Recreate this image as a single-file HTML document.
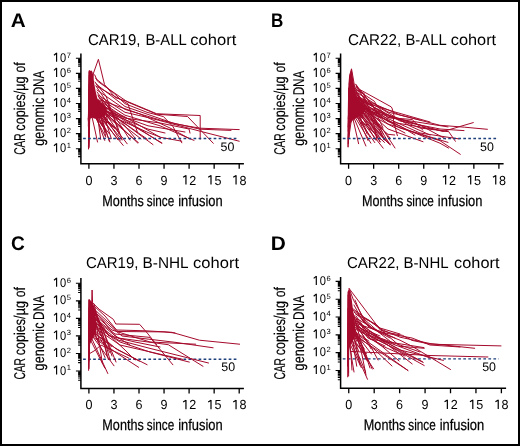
<!DOCTYPE html>
<html><head><meta charset="utf-8"><style>
html,body{margin:0;padding:0;background:#fff;}
svg{display:block;will-change:transform;}
text{font-kerning:none;text-rendering:geometricPrecision;}
</style></head><body>
<svg width="520" height="446" viewBox="0 0 520 446">
<rect x="0" y="0" width="520" height="446" fill="#fff"/>
<text x="10.68" y="26.9" font-family='"Liberation Sans", sans-serif' font-weight="bold" font-size="19.8" textLength="14.96" lengthAdjust="spacingAndGlyphs">A</text>
<text x="88.04" y="44.6" font-family='"Liberation Sans", sans-serif' font-size="15.6" textLength="52.4" lengthAdjust="spacingAndGlyphs">CAR19,</text>
<text x="145.48" y="44.6" font-family='"Liberation Sans", sans-serif' font-size="15.6" textLength="41.21" lengthAdjust="spacingAndGlyphs">B-ALL</text>
<text x="190.3" y="44.6" font-family='"Liberation Sans", sans-serif' font-size="15.6" textLength="46.02" lengthAdjust="spacingAndGlyphs">cohort</text>
<text transform="translate(24.9,0) rotate(-90)" x="-154.82" font-family='"Liberation Sans", sans-serif' font-size="15.6" textLength="21.49" lengthAdjust="spacingAndGlyphs" stroke="#000" stroke-width="0.15">CAR</text>
<text transform="translate(24.9,0) rotate(-90)" x="-130.64" font-family='"Liberation Sans", sans-serif' font-size="15.6" textLength="54.25" lengthAdjust="spacingAndGlyphs" stroke="#000" stroke-width="0.15">copies/µg</text>
<text transform="translate(24.9,0) rotate(-90)" x="-72.61" font-family='"Liberation Sans", sans-serif' font-size="15.6" textLength="10.2" lengthAdjust="spacingAndGlyphs" stroke="#000" stroke-width="0.15">of</text>
<text transform="translate(43.9,0) rotate(-90)" x="-145.73" font-family='"Liberation Sans", sans-serif' font-size="15.6" textLength="47.97" lengthAdjust="spacingAndGlyphs" stroke="#000" stroke-width="0.15">genomic</text>
<text transform="translate(43.9,0) rotate(-90)" x="-95.36" font-family='"Liberation Sans", sans-serif' font-size="15.6" textLength="24.68" lengthAdjust="spacingAndGlyphs" stroke="#000" stroke-width="0.15">DNA</text>
<path d="M80.9 53.4V164.6M80.15 163.8H243.9" stroke="#000" stroke-width="1.5" fill="none" stroke-linecap="butt"/>
<path d="M75.9 148.72H80.9M75.9 133.64H80.9M75.9 118.56H80.9M75.9 103.48H80.9M75.9 88.4H80.9M75.9 73.32H80.9M75.9 58.24H80.9" stroke="#000" stroke-width="1.15"/>
<path d="M78.1 156.61H80.9M78.1 154.72H80.9M78.1 153.26H80.9M78.1 152.07H80.9M78.1 151.06H80.9M78.1 150.18H80.9M78.1 149.41H80.9M78.1 141.53H80.9M78.1 139.64H80.9M78.1 138.18H80.9M78.1 136.99H80.9M78.1 135.98H80.9M78.1 135.1H80.9M78.1 134.33H80.9M78.1 126.45H80.9M78.1 124.56H80.9M78.1 123.1H80.9M78.1 121.91H80.9M78.1 120.9H80.9M78.1 120.02H80.9M78.1 119.25H80.9M78.1 111.37H80.9M78.1 109.48H80.9M78.1 108.02H80.9M78.1 106.83H80.9M78.1 105.82H80.9M78.1 104.94H80.9M78.1 104.17H80.9M78.1 96.29H80.9M78.1 94.4H80.9M78.1 92.94H80.9M78.1 91.75H80.9M78.1 90.74H80.9M78.1 89.86H80.9M78.1 89.09H80.9M78.1 81.21H80.9M78.1 79.32H80.9M78.1 77.86H80.9M78.1 76.67H80.9M78.1 75.66H80.9M78.1 74.78H80.9M78.1 74.01H80.9M78.1 66.13H80.9M78.1 64.24H80.9M78.1 62.78H80.9M78.1 61.59H80.9M78.1 60.58H80.9M78.1 59.7H80.9M78.1 58.93H80.9" stroke="#000" stroke-width="1.1"/>
<path d="M88.9 163.8V168.7M113.95 163.8V168.7M139 163.8V168.7M164.05 163.8V168.7M189.1 163.8V168.7M214.15 163.8V168.7M239.2 163.8V168.7" stroke="#000" stroke-width="1.3"/>
<text x="60.07" y="152.32" font-family='"Liberation Sans", sans-serif' font-size="12.7" textLength="6.17" lengthAdjust="spacingAndGlyphs">0</text>
<text x="66.7" y="148.12" font-family='"Liberation Sans", sans-serif' font-size="7.6">1</text>
<text x="60.07" y="137.24" font-family='"Liberation Sans", sans-serif' font-size="12.7" textLength="6.17" lengthAdjust="spacingAndGlyphs">0</text>
<text x="66.7" y="133.04" font-family='"Liberation Sans", sans-serif' font-size="7.6">2</text>
<text x="60.07" y="122.16" font-family='"Liberation Sans", sans-serif' font-size="12.7" textLength="6.17" lengthAdjust="spacingAndGlyphs">0</text>
<text x="66.7" y="117.96" font-family='"Liberation Sans", sans-serif' font-size="7.6">3</text>
<text x="60.07" y="107.08" font-family='"Liberation Sans", sans-serif' font-size="12.7" textLength="6.17" lengthAdjust="spacingAndGlyphs">0</text>
<text x="66.7" y="102.88" font-family='"Liberation Sans", sans-serif' font-size="7.6">4</text>
<text x="60.07" y="92" font-family='"Liberation Sans", sans-serif' font-size="12.7" textLength="6.17" lengthAdjust="spacingAndGlyphs">0</text>
<text x="66.7" y="87.8" font-family='"Liberation Sans", sans-serif' font-size="7.6">5</text>
<text x="60.07" y="76.92" font-family='"Liberation Sans", sans-serif' font-size="12.7" textLength="6.17" lengthAdjust="spacingAndGlyphs">0</text>
<text x="66.7" y="72.72" font-family='"Liberation Sans", sans-serif' font-size="7.6">6</text>
<text x="60.07" y="61.84" font-family='"Liberation Sans", sans-serif' font-size="12.7" textLength="6.17" lengthAdjust="spacingAndGlyphs">0</text>
<text x="66.7" y="57.64" font-family='"Liberation Sans", sans-serif' font-size="7.6">7</text>
<path d="M56.6 143.32V152.32M54 145.72L56.7 143.42M56.6 128.24V137.24M54 130.64L56.7 128.34M56.6 113.16V122.16M54 115.56L56.7 113.26M56.6 98.08V107.08M54 100.48L56.7 98.18M56.6 83V92M54 85.4L56.7 83.1M56.6 67.92V76.92M54 70.32L56.7 68.02M56.6 52.84V61.84M54 55.24L56.7 52.94" stroke="#000" stroke-width="1.15" fill="none"/>
<text x="85.4" y="184.6" font-family='"Liberation Sans", sans-serif' font-size="13.2" textLength="7.01" lengthAdjust="spacingAndGlyphs">0</text>
<text x="110.48" y="184.6" font-family='"Liberation Sans", sans-serif' font-size="13.2" textLength="7.01" lengthAdjust="spacingAndGlyphs">3</text>
<text x="135.45" y="184.6" font-family='"Liberation Sans", sans-serif' font-size="13.2" textLength="7.01" lengthAdjust="spacingAndGlyphs">6</text>
<text x="160.55" y="184.6" font-family='"Liberation Sans", sans-serif' font-size="13.2" textLength="7.01" lengthAdjust="spacingAndGlyphs">9</text>
<text x="189.22" y="184.6" font-family='"Liberation Sans", sans-serif' font-size="13.2" textLength="7.01" lengthAdjust="spacingAndGlyphs">2</text>
<text x="214.4" y="184.6" font-family='"Liberation Sans", sans-serif' font-size="13.2" textLength="7.01" lengthAdjust="spacingAndGlyphs">5</text>
<text x="239.4" y="184.6" font-family='"Liberation Sans", sans-serif' font-size="13.2" textLength="7.01" lengthAdjust="spacingAndGlyphs">8</text>
<path d="M185.95 175.3V184.6M183.15 177.3L186.05 175.4M211 175.3V184.6M208.2 177.3L211.1 175.4M236.05 175.3V184.6M233.25 177.3L236.15 175.4" stroke="#000" stroke-width="1.2" fill="none"/>
<text x="102.36" y="205.6" font-family='"Liberation Sans", sans-serif' font-size="15.3" textLength="41.39" lengthAdjust="spacingAndGlyphs" stroke="#000" stroke-width="0.25">Months</text>
<text x="146.77" y="205.6" font-family='"Liberation Sans", sans-serif' font-size="15.3" textLength="27.45" lengthAdjust="spacingAndGlyphs" stroke="#000" stroke-width="0.25">since</text>
<text x="178.14" y="205.6" font-family='"Liberation Sans", sans-serif' font-size="15.3" textLength="44.55" lengthAdjust="spacingAndGlyphs" stroke="#000" stroke-width="0.25">infusion</text>
<path d="M88.7 71L89.5 70.2L90.5 71L91.5 70.5L92.5 72L93.3 76L94.3 84L95.8 92L97.5 99L101 102.5L105 105L107 110L106 114L103 117L99 118.5L95 118.8L92.2 117.8L90.6 118.5L89.5 121L88.8 125Z" fill="#a50a2c"/>
<path d="M88.5 149L88.8 125L89.2 100L89.2 71M92.6 80L93.5 73L98.4 59.3L104.5 84.5L115.2 97.5L127.9 101.7L156.7 113.75L200.2 115.5L200.2 139.3M94.7 74.8L97.4 81.1L103.7 85.6L127.9 102.2L156.7 114.2L187.5 116.5L199.6 129L213.3 143.3M95.6 78.4L114.4 93.7L125 103.7L147 112.3L163.5 116.6L173 126.7L181.8 142.8M96 84L125 106.5L175 123.8L200 128.2L239.2 129.6M97 90L125 109.4L160 120L200 129.2L231 130.4M98 95L125 112.3L150 118L201.2 131.5L239.2 141.2M99 98L125 115.2L160 125.8L194 140.4M100 101L125 118.1L160 123L189 129L190 133.1M100 104L125 121L162 143M100 107L125 123.8L153 144.6M100 109L120 126L137.7 143M99 112L115 128L127.2 143.8M98 115L123.2 145.4M97 118L109.2 133.6M97 119L104.7 140.4M92.2 117.8L94.5 128L97.5 142M101 105L125 117L160 137.2L181.8 141.2M100 100L140 114L170 128L190 139M101 108L141 138.9M100 106L147.3 139.2M101 104L161.5 143.2M96 86L127.9 103.7L137.5 132.5M102 110L148 129.1L165 133M102 112L148 132.5L160 137M103 113L138.4 142.6M101 109L148 125.8L185 132M88.63 130.48L89.52 114.44M88.66 132.25L89.55 79.68M88.51 136.16L89.77 75.42M88.33 118.9L89.79 103.59M88.73 147.43L89.96 101.73M88.34 121.04L88.92 95.83M88.62 122.09L89.17 72.41M88.75 130.1L89.83 95.4M88.49 131.99L89.63 92.49M88.8 147.92L90 110.49M88.35 126.09L89.15 84.58M88.57 140.52L89.34 110.79M88.45 146.66L89.83 71.03M88.58 145.13L89.42 117.08M88.49 118.34L89.59 107.59M88.83 118.79L89.27 116.31M88.34 119.78L89.17 75.75M88.61 141.5L89.1 97.29M88.75 122.1L89.71 77.16M88.49 119.73L89.36 81M88.92 147.07L89.78 85.29M88.75 122.74L89.33 111.16M94.9 115.81L105.12 129.99M100.95 103.92L111.3 115.98M94.81 108.49L105.83 132.63M97.35 106.16L123.12 128.66M99.17 113.6L107.8 126.43M102.18 112.72L111.37 126.38M100.65 114.93L109.26 141.15M101.94 108.86L114.13 121.27M94.35 115.33L105.72 137.07M96.31 112.83L114.84 128.45M95.58 110.97L102.19 125.77M99.03 113.34L116.3 128.57M102.26 101.67L107.53 120.08M98.01 99.09L106.71 123.06M99.15 100.37L111.34 138.73M102.82 109.82L119.01 132.78M95.26 98.63L100.69 139.31M100.31 115.33L105.71 135.94M98.34 111.15L109.93 141.99M94.68 107.83L117.69 139.59M100.63 110.67L120.2 140.19M97.17 110.33L121.83 139.21M96 86L108 104L118 128L122 140M97 92L112 112L130 140M95 82L106 96L114 118L119 134M98 96L120 120L135 138" stroke="#a50a2c" stroke-width="1" fill="none" stroke-linejoin="round" stroke-linecap="round"/>
<path d="M83.1 138.48H237" stroke="#1d3f7c" stroke-width="1.4" stroke-dasharray="2.7 2.32"/>
<text x="220.6" y="150.58" font-family='"Liberation Sans", sans-serif' font-size="12.4">50</text>
<text x="270.96" y="26.9" font-family='"Liberation Sans", sans-serif' font-weight="bold" font-size="19.8" textLength="12.32" lengthAdjust="spacingAndGlyphs">B</text>
<text x="348.03" y="44.6" font-family='"Liberation Sans", sans-serif' font-size="15.6" textLength="53.13" lengthAdjust="spacingAndGlyphs">CAR22,</text>
<text x="405.48" y="44.6" font-family='"Liberation Sans", sans-serif' font-size="15.6" textLength="41.21" lengthAdjust="spacingAndGlyphs">B-ALL</text>
<text x="450.81" y="44.6" font-family='"Liberation Sans", sans-serif' font-size="15.6" textLength="45.31" lengthAdjust="spacingAndGlyphs">cohort</text>
<text transform="translate(284.6,0) rotate(-90)" x="-154.82" font-family='"Liberation Sans", sans-serif' font-size="15.6" textLength="21.49" lengthAdjust="spacingAndGlyphs" stroke="#000" stroke-width="0.15">CAR</text>
<text transform="translate(284.6,0) rotate(-90)" x="-130.64" font-family='"Liberation Sans", sans-serif' font-size="15.6" textLength="54.25" lengthAdjust="spacingAndGlyphs" stroke="#000" stroke-width="0.15">copies/µg</text>
<text transform="translate(284.6,0) rotate(-90)" x="-72.61" font-family='"Liberation Sans", sans-serif' font-size="15.6" textLength="10.2" lengthAdjust="spacingAndGlyphs" stroke="#000" stroke-width="0.15">of</text>
<text transform="translate(303.6,0) rotate(-90)" x="-145.73" font-family='"Liberation Sans", sans-serif' font-size="15.6" textLength="47.97" lengthAdjust="spacingAndGlyphs" stroke="#000" stroke-width="0.15">genomic</text>
<text transform="translate(303.6,0) rotate(-90)" x="-95.36" font-family='"Liberation Sans", sans-serif' font-size="15.6" textLength="24.68" lengthAdjust="spacingAndGlyphs" stroke="#000" stroke-width="0.15">DNA</text>
<path d="M340.6 53.4V164.6M339.85 163.8H503.6" stroke="#000" stroke-width="1.5" fill="none" stroke-linecap="butt"/>
<path d="M335.6 148.72H340.6M335.6 133.64H340.6M335.6 118.56H340.6M335.6 103.48H340.6M335.6 88.4H340.6M335.6 73.32H340.6M335.6 58.24H340.6" stroke="#000" stroke-width="1.15"/>
<path d="M337.8 156.61H340.6M337.8 154.72H340.6M337.8 153.26H340.6M337.8 152.07H340.6M337.8 151.06H340.6M337.8 150.18H340.6M337.8 149.41H340.6M337.8 141.53H340.6M337.8 139.64H340.6M337.8 138.18H340.6M337.8 136.99H340.6M337.8 135.98H340.6M337.8 135.1H340.6M337.8 134.33H340.6M337.8 126.45H340.6M337.8 124.56H340.6M337.8 123.1H340.6M337.8 121.91H340.6M337.8 120.9H340.6M337.8 120.02H340.6M337.8 119.25H340.6M337.8 111.37H340.6M337.8 109.48H340.6M337.8 108.02H340.6M337.8 106.83H340.6M337.8 105.82H340.6M337.8 104.94H340.6M337.8 104.17H340.6M337.8 96.29H340.6M337.8 94.4H340.6M337.8 92.94H340.6M337.8 91.75H340.6M337.8 90.74H340.6M337.8 89.86H340.6M337.8 89.09H340.6M337.8 81.21H340.6M337.8 79.32H340.6M337.8 77.86H340.6M337.8 76.67H340.6M337.8 75.66H340.6M337.8 74.78H340.6M337.8 74.01H340.6M337.8 66.13H340.6M337.8 64.24H340.6M337.8 62.78H340.6M337.8 61.59H340.6M337.8 60.58H340.6M337.8 59.7H340.6M337.8 58.93H340.6" stroke="#000" stroke-width="1.1"/>
<path d="M348.6 163.8V168.7M373.65 163.8V168.7M398.7 163.8V168.7M423.75 163.8V168.7M448.8 163.8V168.7M473.85 163.8V168.7M498.9 163.8V168.7" stroke="#000" stroke-width="1.3"/>
<text x="319.77" y="152.32" font-family='"Liberation Sans", sans-serif' font-size="12.7" textLength="6.17" lengthAdjust="spacingAndGlyphs">0</text>
<text x="326.4" y="148.12" font-family='"Liberation Sans", sans-serif' font-size="7.6">1</text>
<text x="319.77" y="137.24" font-family='"Liberation Sans", sans-serif' font-size="12.7" textLength="6.17" lengthAdjust="spacingAndGlyphs">0</text>
<text x="326.4" y="133.04" font-family='"Liberation Sans", sans-serif' font-size="7.6">2</text>
<text x="319.77" y="122.16" font-family='"Liberation Sans", sans-serif' font-size="12.7" textLength="6.17" lengthAdjust="spacingAndGlyphs">0</text>
<text x="326.4" y="117.96" font-family='"Liberation Sans", sans-serif' font-size="7.6">3</text>
<text x="319.77" y="107.08" font-family='"Liberation Sans", sans-serif' font-size="12.7" textLength="6.17" lengthAdjust="spacingAndGlyphs">0</text>
<text x="326.4" y="102.88" font-family='"Liberation Sans", sans-serif' font-size="7.6">4</text>
<text x="319.77" y="92" font-family='"Liberation Sans", sans-serif' font-size="12.7" textLength="6.17" lengthAdjust="spacingAndGlyphs">0</text>
<text x="326.4" y="87.8" font-family='"Liberation Sans", sans-serif' font-size="7.6">5</text>
<text x="319.77" y="76.92" font-family='"Liberation Sans", sans-serif' font-size="12.7" textLength="6.17" lengthAdjust="spacingAndGlyphs">0</text>
<text x="326.4" y="72.72" font-family='"Liberation Sans", sans-serif' font-size="7.6">6</text>
<text x="319.77" y="61.84" font-family='"Liberation Sans", sans-serif' font-size="12.7" textLength="6.17" lengthAdjust="spacingAndGlyphs">0</text>
<text x="326.4" y="57.64" font-family='"Liberation Sans", sans-serif' font-size="7.6">7</text>
<path d="M316.3 143.32V152.32M313.7 145.72L316.4 143.42M316.3 128.24V137.24M313.7 130.64L316.4 128.34M316.3 113.16V122.16M313.7 115.56L316.4 113.26M316.3 98.08V107.08M313.7 100.48L316.4 98.18M316.3 83V92M313.7 85.4L316.4 83.1M316.3 67.92V76.92M313.7 70.32L316.4 68.02M316.3 52.84V61.84M313.7 55.24L316.4 52.94" stroke="#000" stroke-width="1.15" fill="none"/>
<text x="345.1" y="184.6" font-family='"Liberation Sans", sans-serif' font-size="13.2" textLength="7.01" lengthAdjust="spacingAndGlyphs">0</text>
<text x="370.18" y="184.6" font-family='"Liberation Sans", sans-serif' font-size="13.2" textLength="7.01" lengthAdjust="spacingAndGlyphs">3</text>
<text x="395.15" y="184.6" font-family='"Liberation Sans", sans-serif' font-size="13.2" textLength="7.01" lengthAdjust="spacingAndGlyphs">6</text>
<text x="420.25" y="184.6" font-family='"Liberation Sans", sans-serif' font-size="13.2" textLength="7.01" lengthAdjust="spacingAndGlyphs">9</text>
<text x="448.92" y="184.6" font-family='"Liberation Sans", sans-serif' font-size="13.2" textLength="7.01" lengthAdjust="spacingAndGlyphs">2</text>
<text x="474.1" y="184.6" font-family='"Liberation Sans", sans-serif' font-size="13.2" textLength="7.01" lengthAdjust="spacingAndGlyphs">5</text>
<text x="499.1" y="184.6" font-family='"Liberation Sans", sans-serif' font-size="13.2" textLength="7.01" lengthAdjust="spacingAndGlyphs">8</text>
<path d="M445.65 175.3V184.6M442.85 177.3L445.75 175.4M470.7 175.3V184.6M467.9 177.3L470.8 175.4M495.75 175.3V184.6M492.95 177.3L495.85 175.4" stroke="#000" stroke-width="1.2" fill="none"/>
<text x="362.06" y="205.6" font-family='"Liberation Sans", sans-serif' font-size="15.3" textLength="41.39" lengthAdjust="spacingAndGlyphs" stroke="#000" stroke-width="0.25">Months</text>
<text x="406.47" y="205.6" font-family='"Liberation Sans", sans-serif' font-size="15.3" textLength="27.45" lengthAdjust="spacingAndGlyphs" stroke="#000" stroke-width="0.25">since</text>
<text x="437.84" y="205.6" font-family='"Liberation Sans", sans-serif' font-size="15.3" textLength="44.55" lengthAdjust="spacingAndGlyphs" stroke="#000" stroke-width="0.25">infusion</text>
<path d="M348.5 84L349 77L349.7 74.8L350.6 72L351.5 68.8L352.2 72L352.7 76L353.6 82L354.6 87L356.3 95.6L360 101L364.2 106L365.5 110L363 114L358 117L353 120L350.8 123L349.5 128L348.6 132Z" fill="#a50a2c"/>
<path d="M348.1 147L348.3 110L348.7 88M349 100L349.6 75.5L351.5 68.8L352.8 76L354.6 86.7M354.6 86.7L391.1 106.8L392 108.1L394 115.5L393.4 120.9L397.4 135.7M354.6 87.8L360.8 92.3L374.3 101.2L377.6 106.8L388 117.5L412.2 119.5L423 130.3M356 90L364.2 93.4L364.2 101.2L366.4 104.6L388 121.6L448 131.6M356 92L388 112L440 125.3L464.6 127.2L487.4 129.3M357 95L388 117.5L448 126.9M357 98L400 121L440 129L464 130.6M357 100L388 124L448 142.4M358 102L388 129L423 141.7M358 104L400 128L440 140.7L460.3 154.3M358 106L410 131L440 143.2L448.6 148.1M360 104L420 128L448.6 131.5L455.4 141.3M360 106L420 133L459 138.9M359 108L442.9 131.5L473.3 122.6M359 110L388 134.3L394.7 135M358 112L390.7 144.4M357 113L388.8 143.7M357 115L383.2 148.2M356 116L374.8 142.6M355 117L370.9 143.2M354 118L365.9 146M353 119L358.6 143.7M351.8 116.8L348.5 140M356 105L420 125L445.5 138.9M357 100L395 112L430 122M356 97L380 108L410 126L430 135M358 108L380 120L405 133M360 110L378 124L390 138M361 109L400 126L415 135M362 112L380 131L384 140M355 96L372 103L400 115L420 120M355 99L375 110L395 125M348.52 130.1L350.08 112.81M348.55 136.12L349.26 102.14M348.79 120.33L349.78 117.75M348.52 139.12L349.28 107.93M348.68 130.78L350.18 83.18M348.21 118.86L349.7 98.28M348.83 138.25L349.49 103.35M348.61 125.42L348.52 91.44M348.59 123.87L348.84 114.42M348.6 130.82L350.28 92.42M348.82 123.76L349.36 110.63M348.28 143.53L349.27 102.16M348.76 121.95L349.49 111.81M348.15 138.63L350.4 90.52M348.37 131.07L349.05 88.14M348.76 136.15L349.49 91.98M348.03 146.48L349.4 82.84M348.51 143.31L348.58 106.93M348.12 126.96L350.08 80.73M348.21 131.19L348.55 111.53M350.13 83.5L375.73 124.73M354.04 102.96L380.18 141.67M354.48 88.38L371.88 115.9M349.09 97.11L377.85 115.91M351.18 93.06L377.43 127.17M353.92 106.2L369.84 137.01M356.25 84.79L383.32 133.84M350.04 96.51L375.64 140.03M352.01 100.2L381.98 136.29M356.55 96.84L376.28 116.76M354.78 108.19L376.04 135.43M350.71 110.8L384.51 142.45M353.3 107.31L368.01 140.51M355.85 93.15L362.07 124.55M353.4 106.58L372.19 115.39M355.47 84.05L380 115.71M351.68 107.21L363.51 119.34M353.13 105.15L381 133.73M356.57 97.76L383.73 112.84M350.77 98.85L367.25 134.05M354.11 98.73L381.09 128.48M351.49 94.2L381.13 139.72M355 90L370 112L385 140M356 93L375 120L390 145M357 97L368 118L380 142M358 100L380 125L395 148M355 88L366 100L374 125L377 140M356 86L372 104L383 128" stroke="#a50a2c" stroke-width="1" fill="none" stroke-linejoin="round" stroke-linecap="round"/>
<path d="M342.8 138.48H496.7" stroke="#1d3f7c" stroke-width="1.4" stroke-dasharray="2.7 2.32"/>
<text x="480.1" y="150.58" font-family='"Liberation Sans", sans-serif' font-size="12.4">50</text>
<text x="10.92" y="250.3" font-family='"Liberation Sans", sans-serif' font-weight="bold" font-size="19.8" textLength="13.81" lengthAdjust="spacingAndGlyphs">C</text>
<text x="86.04" y="268.1" font-family='"Liberation Sans", sans-serif' font-size="15.6" textLength="52.4" lengthAdjust="spacingAndGlyphs">CAR19,</text>
<text x="142.54" y="268.1" font-family='"Liberation Sans", sans-serif' font-size="15.6" textLength="46.07" lengthAdjust="spacingAndGlyphs">B-NHL</text>
<text x="193.1" y="268.1" font-family='"Liberation Sans", sans-serif' font-size="15.6" textLength="45.92" lengthAdjust="spacingAndGlyphs">cohort</text>
<text transform="translate(24.9,0) rotate(-90)" x="-379.52" font-family='"Liberation Sans", sans-serif' font-size="15.6" textLength="21.49" lengthAdjust="spacingAndGlyphs" stroke="#000" stroke-width="0.15">CAR</text>
<text transform="translate(24.9,0) rotate(-90)" x="-355.34" font-family='"Liberation Sans", sans-serif' font-size="15.6" textLength="54.25" lengthAdjust="spacingAndGlyphs" stroke="#000" stroke-width="0.15">copies/µg</text>
<text transform="translate(24.9,0) rotate(-90)" x="-297.31" font-family='"Liberation Sans", sans-serif' font-size="15.6" textLength="10.2" lengthAdjust="spacingAndGlyphs" stroke="#000" stroke-width="0.15">of</text>
<text transform="translate(43.9,0) rotate(-90)" x="-370.43" font-family='"Liberation Sans", sans-serif' font-size="15.6" textLength="47.97" lengthAdjust="spacingAndGlyphs" stroke="#000" stroke-width="0.15">genomic</text>
<text transform="translate(43.9,0) rotate(-90)" x="-320.06" font-family='"Liberation Sans", sans-serif' font-size="15.6" textLength="24.68" lengthAdjust="spacingAndGlyphs" stroke="#000" stroke-width="0.15">DNA</text>
<path d="M80.9 278.1V389.35M80.15 388.55H243.9" stroke="#000" stroke-width="1.5" fill="none" stroke-linecap="butt"/>
<path d="M75.9 371H80.9M75.9 353.45H80.9M75.9 335.9H80.9M75.9 318.35H80.9M75.9 300.8H80.9M75.9 283.25H80.9" stroke="#000" stroke-width="1.15"/>
<path d="M78.1 380.18H80.9M78.1 377.98H80.9M78.1 376.28H80.9M78.1 374.89H80.9M78.1 373.72H80.9M78.1 372.7H80.9M78.1 371.8H80.9M78.1 362.63H80.9M78.1 360.43H80.9M78.1 358.73H80.9M78.1 357.34H80.9M78.1 356.17H80.9M78.1 355.15H80.9M78.1 354.25H80.9M78.1 345.08H80.9M78.1 342.88H80.9M78.1 341.18H80.9M78.1 339.79H80.9M78.1 338.62H80.9M78.1 337.6H80.9M78.1 336.7H80.9M78.1 327.53H80.9M78.1 325.33H80.9M78.1 323.63H80.9M78.1 322.24H80.9M78.1 321.07H80.9M78.1 320.05H80.9M78.1 319.15H80.9M78.1 309.98H80.9M78.1 307.78H80.9M78.1 306.08H80.9M78.1 304.69H80.9M78.1 303.52H80.9M78.1 302.5H80.9M78.1 301.6H80.9M78.1 292.43H80.9M78.1 290.23H80.9M78.1 288.53H80.9M78.1 287.14H80.9M78.1 285.97H80.9M78.1 284.95H80.9M78.1 284.05H80.9" stroke="#000" stroke-width="1.1"/>
<path d="M88.9 388.55V393.45M113.95 388.55V393.45M139 388.55V393.45M164.05 388.55V393.45M189.1 388.55V393.45M214.15 388.55V393.45M239.2 388.55V393.45" stroke="#000" stroke-width="1.3"/>
<text x="60.07" y="374.6" font-family='"Liberation Sans", sans-serif' font-size="12.7" textLength="6.17" lengthAdjust="spacingAndGlyphs">0</text>
<text x="66.7" y="370.4" font-family='"Liberation Sans", sans-serif' font-size="7.6">1</text>
<text x="60.07" y="357.05" font-family='"Liberation Sans", sans-serif' font-size="12.7" textLength="6.17" lengthAdjust="spacingAndGlyphs">0</text>
<text x="66.7" y="352.85" font-family='"Liberation Sans", sans-serif' font-size="7.6">2</text>
<text x="60.07" y="339.5" font-family='"Liberation Sans", sans-serif' font-size="12.7" textLength="6.17" lengthAdjust="spacingAndGlyphs">0</text>
<text x="66.7" y="335.3" font-family='"Liberation Sans", sans-serif' font-size="7.6">3</text>
<text x="60.07" y="321.95" font-family='"Liberation Sans", sans-serif' font-size="12.7" textLength="6.17" lengthAdjust="spacingAndGlyphs">0</text>
<text x="66.7" y="317.75" font-family='"Liberation Sans", sans-serif' font-size="7.6">4</text>
<text x="60.07" y="304.4" font-family='"Liberation Sans", sans-serif' font-size="12.7" textLength="6.17" lengthAdjust="spacingAndGlyphs">0</text>
<text x="66.7" y="300.2" font-family='"Liberation Sans", sans-serif' font-size="7.6">5</text>
<text x="60.07" y="286.85" font-family='"Liberation Sans", sans-serif' font-size="12.7" textLength="6.17" lengthAdjust="spacingAndGlyphs">0</text>
<text x="66.7" y="282.65" font-family='"Liberation Sans", sans-serif' font-size="7.6">6</text>
<path d="M56.6 365.6V374.6M54 368L56.7 365.7M56.6 348.05V357.05M54 350.45L56.7 348.15M56.6 330.5V339.5M54 332.9L56.7 330.6M56.6 312.95V321.95M54 315.35L56.7 313.05M56.6 295.4V304.4M54 297.8L56.7 295.5M56.6 277.85V286.85M54 280.25L56.7 277.95" stroke="#000" stroke-width="1.15" fill="none"/>
<text x="85.4" y="409.35" font-family='"Liberation Sans", sans-serif' font-size="13.2" textLength="7.01" lengthAdjust="spacingAndGlyphs">0</text>
<text x="110.48" y="409.35" font-family='"Liberation Sans", sans-serif' font-size="13.2" textLength="7.01" lengthAdjust="spacingAndGlyphs">3</text>
<text x="135.45" y="409.35" font-family='"Liberation Sans", sans-serif' font-size="13.2" textLength="7.01" lengthAdjust="spacingAndGlyphs">6</text>
<text x="160.55" y="409.35" font-family='"Liberation Sans", sans-serif' font-size="13.2" textLength="7.01" lengthAdjust="spacingAndGlyphs">9</text>
<text x="189.22" y="409.35" font-family='"Liberation Sans", sans-serif' font-size="13.2" textLength="7.01" lengthAdjust="spacingAndGlyphs">2</text>
<text x="214.4" y="409.35" font-family='"Liberation Sans", sans-serif' font-size="13.2" textLength="7.01" lengthAdjust="spacingAndGlyphs">5</text>
<text x="239.4" y="409.35" font-family='"Liberation Sans", sans-serif' font-size="13.2" textLength="7.01" lengthAdjust="spacingAndGlyphs">8</text>
<path d="M185.95 400.05V409.35M183.15 402.05L186.05 400.15M211 400.05V409.35M208.2 402.05L211.1 400.15M236.05 400.05V409.35M233.25 402.05L236.15 400.15" stroke="#000" stroke-width="1.2" fill="none"/>
<text x="102.36" y="430.35" font-family='"Liberation Sans", sans-serif' font-size="15.3" textLength="41.39" lengthAdjust="spacingAndGlyphs" stroke="#000" stroke-width="0.25">Months</text>
<text x="146.77" y="430.35" font-family='"Liberation Sans", sans-serif' font-size="15.3" textLength="27.45" lengthAdjust="spacingAndGlyphs" stroke="#000" stroke-width="0.25">since</text>
<text x="178.14" y="430.35" font-family='"Liberation Sans", sans-serif' font-size="15.3" textLength="44.55" lengthAdjust="spacingAndGlyphs" stroke="#000" stroke-width="0.25">infusion</text>
<path d="M83.1 359.23H237" stroke="#1d3f7c" stroke-width="1.4" stroke-dasharray="2.7 2.32"/>
<path d="M88.4 300L89.5 299.3L91 301L93 303.5L94.5 310L95.5 318L96.5 326L96 333L93 338L90.5 343L88.4 348Z" fill="#a50a2c"/>
<path d="M88.6 370.4L88.6 330L88.8 305L89 299.6M91.6 306L92.1 290L92.6 303.2M93.1 303.2L99.1 309.2L113.3 319.3L115.8 324L139.6 324.3L147.3 333.1L156.5 344.6M94 306L105 316L116.5 330L145.8 330.8L171.9 332.3L199.4 340.2L239.6 344.2M94 309L108 322L118 331.5L164 331.9L175 333M95 312L110 326L122 336L175 342.3L213.1 347.8M95 315L112 330L150 342L195.7 344.2M95 318L115 334L150 337.4L172.9 364.8M96 320L118 338L168.3 344.7L203 366.3M96 323L118 340L150 348.4L208.5 363M95 326L120 342L150 352L189.3 362.1M95 328L120 345L182.9 359.4M94 330L115 348L139.4 361.2M94 333L118 350L147.1 364.7M93 335L115 352L138.6 367.3M93 337L114 365.8M92 339L107.8 373.5M91 341L104.8 368.1M88.6 354.2L95.1 350.3L100.9 345L128.6 358M93 305L100 325L106 345L110 360M94 308L103 330L112 356M95 312L105 335L116 362M94 304L98 320L104 340L107 355M96 316L108 334L125 350L135 360M93.5 310L104 322L114 335L130 345M95 322L110 336L135 342L160 347M89.07 346.25L90.23 338.74M89.05 357.19L89.06 321.44M89.06 358.16L88.75 338.78M89.04 352.02L90.14 322.51M88.97 360.73L88.82 321.55M89.03 368.71L90.36 310.77M89.41 343.81L89.48 332.63M89.16 354.3L89.27 307.66M88.62 367.76L88.93 331.17M88.89 345.82L89.11 327.48M89.26 350.66L89.82 304.2M88.78 343.68L89.62 310.02M88.97 355.91L89.49 315.03M89.17 355.88L88.99 308.17M92.83 319.48L109.92 352.8M94.14 309.68L108.37 359.56M94.42 312.42L102.41 363.37M90.31 334.95L110.43 349.5M90.44 325.98L101.63 340.7M93.99 315.91L109.06 336.28M91.42 324.61L98.25 342.52M93.09 332.08L111.56 346.61M92.03 327.02L105.04 357.52M90.13 304.33L99.49 333.27" stroke="#a50a2c" stroke-width="1" fill="none" stroke-linejoin="round" stroke-linecap="round"/>
<text x="221.3" y="371.33" font-family='"Liberation Sans", sans-serif' font-size="12.4">50</text>
<text x="270.7" y="250.2" font-family='"Liberation Sans", sans-serif' font-weight="bold" font-size="19.8" textLength="15.07" lengthAdjust="spacingAndGlyphs">D</text>
<text x="347.04" y="268.1" font-family='"Liberation Sans", sans-serif' font-size="15.6" textLength="52.4" lengthAdjust="spacingAndGlyphs">CAR22,</text>
<text x="403.57" y="268.1" font-family='"Liberation Sans", sans-serif' font-size="15.6" textLength="45.03" lengthAdjust="spacingAndGlyphs">B-NHL</text>
<text x="454.11" y="268.1" font-family='"Liberation Sans", sans-serif' font-size="15.6" textLength="45.31" lengthAdjust="spacingAndGlyphs">cohort</text>
<text transform="translate(284.6,0) rotate(-90)" x="-379.52" font-family='"Liberation Sans", sans-serif' font-size="15.6" textLength="21.49" lengthAdjust="spacingAndGlyphs" stroke="#000" stroke-width="0.15">CAR</text>
<text transform="translate(284.6,0) rotate(-90)" x="-355.34" font-family='"Liberation Sans", sans-serif' font-size="15.6" textLength="54.25" lengthAdjust="spacingAndGlyphs" stroke="#000" stroke-width="0.15">copies/µg</text>
<text transform="translate(284.6,0) rotate(-90)" x="-297.31" font-family='"Liberation Sans", sans-serif' font-size="15.6" textLength="10.2" lengthAdjust="spacingAndGlyphs" stroke="#000" stroke-width="0.15">of</text>
<text transform="translate(303.6,0) rotate(-90)" x="-370.43" font-family='"Liberation Sans", sans-serif' font-size="15.6" textLength="47.97" lengthAdjust="spacingAndGlyphs" stroke="#000" stroke-width="0.15">genomic</text>
<text transform="translate(303.6,0) rotate(-90)" x="-320.06" font-family='"Liberation Sans", sans-serif' font-size="15.6" textLength="24.68" lengthAdjust="spacingAndGlyphs" stroke="#000" stroke-width="0.15">DNA</text>
<path d="M340.6 276.9V389.1M339.85 388.3H506.1" stroke="#000" stroke-width="1.5" fill="none" stroke-linecap="butt"/>
<path d="M335.6 370.48H340.6M335.6 352.66H340.6M335.6 334.84H340.6M335.6 317.02H340.6M335.6 299.2H340.6M335.6 281.38H340.6" stroke="#000" stroke-width="1.15"/>
<path d="M337.8 379.8H340.6M337.8 377.57H340.6M337.8 375.84H340.6M337.8 374.43H340.6M337.8 373.24H340.6M337.8 372.21H340.6M337.8 371.3H340.6M337.8 361.98H340.6M337.8 359.75H340.6M337.8 358.02H340.6M337.8 356.61H340.6M337.8 355.42H340.6M337.8 354.39H340.6M337.8 353.48H340.6M337.8 344.16H340.6M337.8 341.93H340.6M337.8 340.2H340.6M337.8 338.79H340.6M337.8 337.6H340.6M337.8 336.57H340.6M337.8 335.66H340.6M337.8 326.34H340.6M337.8 324.11H340.6M337.8 322.38H340.6M337.8 320.97H340.6M337.8 319.78H340.6M337.8 318.75H340.6M337.8 317.84H340.6M337.8 308.52H340.6M337.8 306.29H340.6M337.8 304.56H340.6M337.8 303.15H340.6M337.8 301.96H340.6M337.8 300.93H340.6M337.8 300.02H340.6M337.8 290.7H340.6M337.8 288.47H340.6M337.8 286.74H340.6M337.8 285.33H340.6M337.8 284.14H340.6M337.8 283.11H340.6M337.8 282.2H340.6" stroke="#000" stroke-width="1.1"/>
<path d="M348.75 388.3V393.2M374.19 388.3V393.2M399.63 388.3V393.2M425.07 388.3V393.2M450.51 388.3V393.2M475.95 388.3V393.2M501.39 388.3V393.2" stroke="#000" stroke-width="1.3"/>
<text x="319.77" y="374.08" font-family='"Liberation Sans", sans-serif' font-size="12.7" textLength="6.17" lengthAdjust="spacingAndGlyphs">0</text>
<text x="326.4" y="369.88" font-family='"Liberation Sans", sans-serif' font-size="7.6">1</text>
<text x="319.77" y="356.26" font-family='"Liberation Sans", sans-serif' font-size="12.7" textLength="6.17" lengthAdjust="spacingAndGlyphs">0</text>
<text x="326.4" y="352.06" font-family='"Liberation Sans", sans-serif' font-size="7.6">2</text>
<text x="319.77" y="338.44" font-family='"Liberation Sans", sans-serif' font-size="12.7" textLength="6.17" lengthAdjust="spacingAndGlyphs">0</text>
<text x="326.4" y="334.24" font-family='"Liberation Sans", sans-serif' font-size="7.6">3</text>
<text x="319.77" y="320.62" font-family='"Liberation Sans", sans-serif' font-size="12.7" textLength="6.17" lengthAdjust="spacingAndGlyphs">0</text>
<text x="326.4" y="316.42" font-family='"Liberation Sans", sans-serif' font-size="7.6">4</text>
<text x="319.77" y="302.8" font-family='"Liberation Sans", sans-serif' font-size="12.7" textLength="6.17" lengthAdjust="spacingAndGlyphs">0</text>
<text x="326.4" y="298.6" font-family='"Liberation Sans", sans-serif' font-size="7.6">5</text>
<text x="319.77" y="284.98" font-family='"Liberation Sans", sans-serif' font-size="12.7" textLength="6.17" lengthAdjust="spacingAndGlyphs">0</text>
<text x="326.4" y="280.78" font-family='"Liberation Sans", sans-serif' font-size="7.6">6</text>
<path d="M316.3 365.08V374.08M313.7 367.48L316.4 365.18M316.3 347.26V356.26M313.7 349.66L316.4 347.36M316.3 329.44V338.44M313.7 331.84L316.4 329.54M316.3 311.62V320.62M313.7 314.02L316.4 311.72M316.3 293.8V302.8M313.7 296.2L316.4 293.9M316.3 275.98V284.98M313.7 278.38L316.4 276.08" stroke="#000" stroke-width="1.15" fill="none"/>
<text x="345.25" y="409.1" font-family='"Liberation Sans", sans-serif' font-size="13.2" textLength="7.01" lengthAdjust="spacingAndGlyphs">0</text>
<text x="370.72" y="409.1" font-family='"Liberation Sans", sans-serif' font-size="13.2" textLength="7.01" lengthAdjust="spacingAndGlyphs">3</text>
<text x="396.08" y="409.1" font-family='"Liberation Sans", sans-serif' font-size="13.2" textLength="7.01" lengthAdjust="spacingAndGlyphs">6</text>
<text x="421.57" y="409.1" font-family='"Liberation Sans", sans-serif' font-size="13.2" textLength="7.01" lengthAdjust="spacingAndGlyphs">9</text>
<text x="450.63" y="409.1" font-family='"Liberation Sans", sans-serif' font-size="13.2" textLength="7.01" lengthAdjust="spacingAndGlyphs">2</text>
<text x="476.2" y="409.1" font-family='"Liberation Sans", sans-serif' font-size="13.2" textLength="7.01" lengthAdjust="spacingAndGlyphs">5</text>
<text x="501.59" y="409.1" font-family='"Liberation Sans", sans-serif' font-size="13.2" textLength="7.01" lengthAdjust="spacingAndGlyphs">8</text>
<path d="M447.36 399.8V409.1M444.56 401.8L447.46 399.9M472.8 399.8V409.1M470 401.8L472.9 399.9M498.24 399.8V409.1M495.44 401.8L498.34 399.9" stroke="#000" stroke-width="1.2" fill="none"/>
<text x="363.86" y="430.1" font-family='"Liberation Sans", sans-serif' font-size="15.3" textLength="41.39" lengthAdjust="spacingAndGlyphs" stroke="#000" stroke-width="0.25">Months</text>
<text x="408.27" y="430.1" font-family='"Liberation Sans", sans-serif' font-size="15.3" textLength="27.45" lengthAdjust="spacingAndGlyphs" stroke="#000" stroke-width="0.25">since</text>
<text x="439.64" y="430.1" font-family='"Liberation Sans", sans-serif' font-size="15.3" textLength="44.55" lengthAdjust="spacingAndGlyphs" stroke="#000" stroke-width="0.25">infusion</text>
<path d="M342.8 358.9H498.8" stroke="#1d3f7c" stroke-width="1.4" stroke-dasharray="2.7 2.32"/>
<path d="M347.5 292L349.2 289L350.5 293L351.8 300L353 310L354.5 320L355.5 330L354 338L351 344L349 348L347.5 352Z" fill="#a50a2c"/>
<path d="M347.7 376.9L347.7 330L348.3 300L349.2 288.6M348.6 376L348.6 340M349.2 288.6L380.5 330.2L390.7 333.1L402.4 335.3L412 340.4L430.3 344.2L501 345.9M350 290.8L353.6 300.3L363 317L368.9 320L379.8 328.7L400 337.2L430 343.5L474.7 348.3M352.8 309.8L361.6 317L378.3 331.6L400 340.2L412.2 346.4L450.5 369.5M355.7 314.2L376.2 324.4L383.4 331.6L400 346.3L424.2 348.3M354.3 322.9L385 333L412 338L430 345L460 347M351.4 351.5L390.9 353.4L430 355.5L487.9 357M355 325L400 350L443.4 360.4M355 327L424.2 365.5M355 329L423.2 362.4M354 332L408 370.5M354 335L407.8 370.4M353 338L373.6 368.8M352 340L365.6 371.9M351 342L367.5 379.3M350 344L361.3 367.6M356 318L375.8 330L395 345M355 320L380 338L420 352M356 316L370 335.5L430 358M357 319L370 339.1L423.9 347.6M356 324L399.1 361M357 321L412.2 363.9M356 326L422.4 361.7M355 330L372.2 369M354 312L372 328L395 338M353 318L368 332L390 343M356 328L380 345L405 356M355 334L375 350L392 366M347.83 360.21L348.83 319.3M348.59 348.09L348.21 332.33M348.56 372.59L347.99 294.97M348.12 357.25L349.33 307.69M347.71 359L348.66 320.84M348.11 365.13L349.49 300.7M347.85 366.4L348.61 301.37M348.42 358.91L347.83 334.87M348.06 365.25L349.52 322.21M348.42 361.79L348.81 339.17M348.4 350.52L349.62 327.73M348.49 368.88L348.61 335.03M348.07 364.93L349.33 328.73M348.12 365.85L347.94 308.4M348.06 323.89L366.22 355.59M349.39 338.62L366.66 353.84M351.96 329.24L364.53 349.22M354 331.06L367.22 361.1M353.88 315.57L365.85 359.38M349.54 325.04L356.81 341.45M350.25 317.46L360.01 364.89M351.3 327.7L371.47 354.04M353.97 330.95L368.95 341.16M351.59 333.98L356.72 366.18M348.96 326.79L358.71 351.35M351.67 316.46L371.12 348.88M352 312L358 322L366 330L380 336M353 316L360 328L368 338L385 346M354 305L362 320L369 327L390 338M352 320L362 334L370 345L378 360M353 324L357 335L364 350L370 368M351 328L358 340L362 355L366 375M355 300L360 312L365 322L372 328M352 308L365 318L380 328L400 334M350 346L352 360L354 372M349 338L351 355L352 370" stroke="#a50a2c" stroke-width="1" fill="none" stroke-linejoin="round" stroke-linecap="round"/>
<text x="482.2" y="371" font-family='"Liberation Sans", sans-serif' font-size="12.4">50</text>
<rect x="1" y="1" width="518" height="444" fill="none" stroke="#000" stroke-width="2"/>
</svg>
</body></html>
